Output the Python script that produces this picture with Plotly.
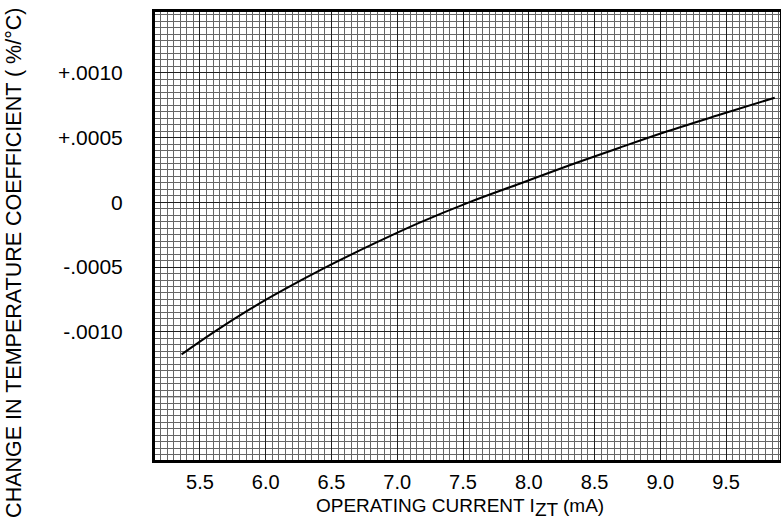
import plotly.graph_objects as go

# Data
current_ma = [5.36, 5.60, 5.88, 6.11, 6.44, 6.79, 7.17, 7.55, 7.93, 8.31, 8.69, 9.02, 9.45, 9.87]
tc_change = [-0.001174, -0.001006, -0.000825, -0.000690, -0.000510, -0.000335, -0.000157,
             0.000002, 0.000144, 0.000286, 0.000422, 0.000538, 0.000676, 0.000808]

x_tickvals = [5.5, 6.0, 6.5, 7.0, 7.5, 8.0, 8.5, 9.0, 9.5]
x_ticktext = ["5.5", "6.0", "6.5", "7.0", "7.5", "8.0", "8.5", "9.0", "9.5"]
y_tickvals = [-0.0010, -0.0005, 0.0, 0.0005, 0.0010]
y_ticktext = ["-.0010", "-.0005", "0", "+.0005", "+.0010"]
y_extra_majors = [-0.0015]

FONT = "Liberation Sans, Arial, sans-serif"

fig = go.Figure()
fig.add_trace(go.Scatter(x=current_ma, y=tc_change, mode="lines",
                         line=dict(color="black", width=2, shape="spline", smoothing=1.0),
                         showlegend=False, hoverinfo="skip"))

fig.update_layout(
    width=781, height=523,
    margin=dict(l=155, r=1, t=12, b=63, autoexpand=False),
    paper_bgcolor="white", plot_bgcolor="white",
    font=dict(family=FONT, size=20, color="black"),
    showlegend=False,
)

MAJOR = "#202020"
MINOR = "#666666"

fig.update_xaxes(
    range=[5.158, 9.91], automargin=False,
    tickmode="array", tickvals=x_tickvals, ticktext=x_ticktext,
    showgrid=True, gridcolor=MAJOR, gridwidth=1.2,
    minor=dict(tick0=5.5, dtick=0.05, showgrid=True, gridcolor=MINOR, gridwidth=1),
    showline=True, linecolor="black", linewidth=3, mirror=True,
    ticks="", ticklabelstandoff=2, zeroline=False,
    tickfont=dict(size=20),
)
fig.update_yaxes(
    range=[-0.00199, 0.00147], automargin=False,
    tickmode="array", tickvals=y_tickvals, ticktext=y_ticktext,
    showgrid=True, gridcolor=MAJOR, gridwidth=1.2,
    minor=dict(tick0=0, dtick=0.00005, showgrid=True, gridcolor=MINOR, gridwidth=1),
    showline=True, linecolor="black", linewidth=3, mirror=True,
    ticks="", ticklabelstandoff=25, zeroline=False,
    tickfont=dict(size=21),
)

for yv in y_extra_majors:
    fig.add_hline(y=yv, line=dict(color=MAJOR, width=1.2), layer="below")

fig.add_annotation(text="CHANGE IN TEMPERATURE COEFFICIENT ( %/°C)",
                   xref="paper", yref="paper", x=-0.2256, y=0.44,
                   xanchor="center", yanchor="middle", textangle=-90,
                   showarrow=False, font=dict(family=FONT, size=21.5, color="black"))
fig.add_annotation(text="OPERATING CURRENT I<sub><span style='font-size:19px'>ZT</span></sub> (mA)",
                   xref="paper", yref="paper", x=0.488, y=-0.106,
                   xanchor="center", yanchor="middle",
                   showarrow=False, font=dict(family=FONT, size=19, color="black"))

fig.write_html("out.html", config={"displayModeBar": False},
               post_script="document.body.style.margin='0';document.body.style.overflow='hidden';")
